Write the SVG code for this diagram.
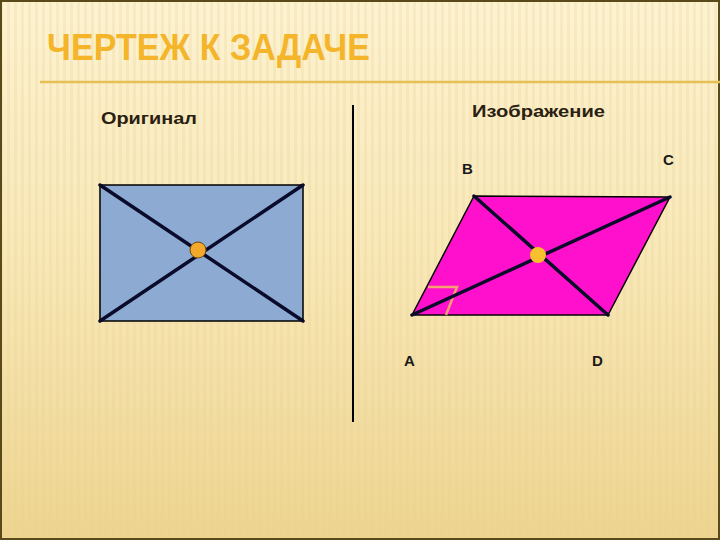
<svg xmlns="http://www.w3.org/2000/svg" width="720" height="540" viewBox="0 0 720 540">
<defs>
<linearGradient id="bg" x1="0" y1="0" x2="0" y2="1">
<stop offset="0" stop-color="#FDF3D2"/>
<stop offset="0.5" stop-color="#F8E7B6"/>
<stop offset="1" stop-color="#EDD48F"/>
</linearGradient>
<pattern id="stripes" width="7" height="540" patternUnits="userSpaceOnUse">
<rect x="0" y="0" width="3" height="540" fill="#E8D090" opacity="0.25"/>
</pattern>
<style>
.lbl{font-family:"Liberation Sans",Arial,sans-serif;font-size:17px;font-weight:bold;fill:#2A2010}
.pt{font-family:"Liberation Sans",Arial,sans-serif;font-size:15px;font-weight:bold;fill:#1A1A1A}
.diag{stroke:#0A0A2A;stroke-width:3.5;stroke-linecap:round}
.edge{stroke:#000;stroke-width:1.5;stroke-linejoin:round}
.dot{fill:#F4A82C;stroke:#6B4A10;stroke-width:1}
</style>
</defs>
<rect x="0" y="0" width="720" height="540" fill="url(#bg)"/>
<rect x="0" y="0" width="720" height="540" fill="url(#stripes)"/>
<rect x="1" y="1" width="718" height="538" fill="none" stroke="#5A4A1A" stroke-width="2"/>
<text x="47" y="60" font-family="'Liberation Sans',Arial,sans-serif" font-size="37" font-weight="bold" fill="#F5B52A" textLength="323" lengthAdjust="spacingAndGlyphs">ЧЕРТЕЖ К ЗАДАЧЕ</text>
<line x1="40" y1="82" x2="720" y2="82" stroke="#E6C055" stroke-width="2.5"/>
<line x1="353" y1="105" x2="353" y2="422" stroke="#000" stroke-width="2"/>
<g id="original">
<text class="lbl" x="101" y="124" textLength="96" lengthAdjust="spacingAndGlyphs">Оригинал</text>
<rect x="100" y="185" width="203" height="136" fill="#8CAAD2" class="edge"/>
<line class="diag" x1="100" y1="185" x2="303" y2="321"/>
<line class="diag" x1="303" y1="185" x2="100" y2="321"/>
<circle class="dot" cx="198" cy="250" r="8"/>
</g>
<g id="image">
<text class="lbl" x="472" y="117" textLength="133" lengthAdjust="spacingAndGlyphs">Изображение</text>
<polygon points="474,196 670,197 608,315 412,315" fill="#FF10CC" class="edge"/>
<polyline points="428,287 457,287 446,315" fill="none" stroke="#F7A070" stroke-width="2.5"/>
<line class="diag" x1="474" y1="196" x2="608" y2="315"/>
<line class="diag" x1="412" y1="315" x2="670" y2="197"/>
<circle cx="538" cy="255" r="8" fill="#F8C02C"/>
<text class="pt" x="462" y="174">B</text>
<text class="pt" x="663" y="165">C</text>
<text class="pt" x="404" y="366">A</text>
<text class="pt" x="592" y="366">D</text>
</g>
</svg>
